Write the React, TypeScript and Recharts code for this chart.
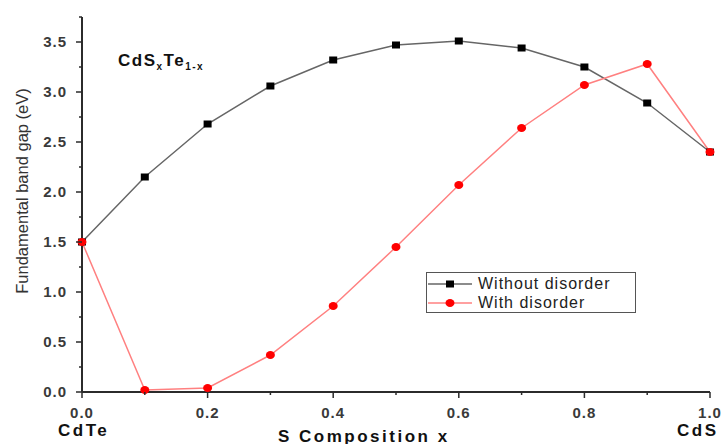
import React from "react";
import { LineChart, Line, XAxis, YAxis } from "recharts";

const compositions = [0, 0.1, 0.2, 0.3, 0.4, 0.5, 0.6, 0.7, 0.8, 0.9, 1.0];
const withoutDisorder = [1.5, 2.15, 2.68, 3.06, 3.32, 3.47, 3.51, 3.44, 3.25, 2.89, 2.4];
const withDisorder = [1.5, 0.02, 0.04, 0.37, 0.86, 1.45, 2.07, 2.64, 3.07, 3.28, 2.4];
const xTicks = [0, 0.1, 0.2, 0.3, 0.4, 0.5, 0.6, 0.7, 0.8, 0.9, 1.0];
const yTicks = [0, 0.25, 0.5, 0.75, 1, 1.25, 1.5, 1.75, 2, 2.25, 2.5, 2.75, 3, 3.25, 3.5, 3.75];

const data = compositions.map((x, i) => ({
  x,
  without: withoutDisorder[i],
  with: withDisorder[i],
}));

const W = 722;
const H = 444;
const AXIS = "#2b2b2b";
const TICK_TEXT = "#3a3a3a";
const FONT = "'Liberation Sans', Arial, sans-serif";

const isMajor = (v: number, step: number) => Math.abs(Math.round(v / step) * step - v) < 1e-6;

function XTick(props: any) {
  const { x, y, payload } = props;
  const major = isMajor(payload.value, 0.2);
  return (
    <g>
      <line x1={x} x2={x} y1={y} y2={y + (major ? 6 : 3)} stroke={AXIS} strokeWidth={1.5} />
      {major && (
        <text x={x} y={y + 26} textAnchor="middle" fontSize={15} fontWeight="bold" letterSpacing={1} fill={TICK_TEXT} fontFamily={FONT}>
          {payload.value.toFixed(1)}
        </text>
      )}
    </g>
  );
}

function YTick(props: any) {
  const { x, y, payload } = props;
  const major = isMajor(payload.value, 0.5);
  return (
    <g>
      <line x1={x} x2={x - (major ? 6 : 3)} y1={y} y2={y} stroke={AXIS} strokeWidth={1.5} />
      {major && (
        <text x={x - 15} y={y + 5} textAnchor="end" fontSize={15} fontWeight="bold" letterSpacing={1} fill={TICK_TEXT} fontFamily={FONT}>
          {payload.value.toFixed(1)}
        </text>
      )}
    </g>
  );
}

function SquareDot(props: any) {
  const { cx, cy } = props;
  if (cx == null || cy == null) return null;
  return <rect x={cx - 4} y={cy - 3.5} width={8} height={7} fill="#000" />;
}

function RoundDot(props: any) {
  const { cx, cy } = props;
  if (cx == null || cy == null) return null;
  return <ellipse cx={cx} cy={cy} rx={4.5} ry={4} fill="#ff0000" />;
}

function LegendBox() {
  const row = (label: string, stroke: string, marker: React.ReactNode) => (
    <div style={{ display: "flex", alignItems: "center", height: 19 }}>
      <svg width={46} height={12} style={{ marginRight: 5 }}>
        <line x1={1} x2={45} y1={6} y2={6} stroke={stroke} strokeWidth={1.5} />
        {marker}
      </svg>
      <span>{label}</span>
    </div>
  );
  return (
    <div
      style={{
        position: "absolute",
        left: 426,
        top: 272,
        width: 210,
        height: 41,
        boxSizing: "border-box",
        border: "1.5px solid #555",
        background: "#fff",
        fontFamily: FONT,
        fontSize: 16,
        letterSpacing: 1,
        color: "#222",
        paddingTop: 1,
      }}
    >
      {row("Without disorder", "#666", <rect x={19} y={2.5} width={8} height={7} fill="#000" />)}
      {row("With disorder", "#ff8080", <ellipse cx={23} cy={6} rx={4.5} ry={4} fill="#ff0000" />)}
    </div>
  );
}

const boldLabel = {
  position: "absolute" as const,
  fontFamily: FONT,
  fontWeight: "bold" as const,
  fontSize: 17,
  letterSpacing: 2.5,
  color: "#111",
  whiteSpace: "nowrap" as const,
};

export default function App() {
  return (
    <div style={{ position: "absolute", left: 0, top: 0, width: W, height: H, background: "#fff", overflow: "hidden" }}>
      <LineChart width={W} height={H} data={data} margin={{ top: 17, right: 12, bottom: 0, left: 0 }}>
        <XAxis
          dataKey="x"
          type="number"
          domain={[0, 1]}
          ticks={xTicks}
          interval={0}
          tickSize={0}
          tickMargin={0}
          tickLine={false}
          tick={<XTick />}
          axisLine={{ stroke: AXIS, strokeWidth: 2 }}
          height={52}
        />
        <YAxis
          type="number"
          domain={[0, 3.75]}
          ticks={yTicks}
          interval={0}
          tickSize={0}
          tickMargin={0}
          tickLine={false}
          tick={<YTick />}
          axisLine={{ stroke: AXIS, strokeWidth: 2 }}
          width={82}
        />
        <Line
          type="linear"
          dataKey="without"
          stroke="#666"
          strokeWidth={1.5}
          dot={<SquareDot />}
          activeDot={false}
          isAnimationActive={false}
        />
        <Line
          type="linear"
          dataKey="with"
          stroke="#ff8080"
          strokeWidth={1.5}
          dot={<RoundDot />}
          activeDot={false}
          isAnimationActive={false}
        />
      </LineChart>

      <LegendBox />

      {/* Title */}
      <div style={{ ...boldLabel, left: 118, top: 51, letterSpacing: 1.5 }}>
        CdS<sub style={{ fontSize: 10 }}>x</sub>Te<sub style={{ fontSize: 10 }}>1-x</sub>
      </div>

      {/* Y axis label */}
      <div
        style={{
          position: "absolute",
          left: 22,
          top: 191,
          transform: "translate(-50%, -50%) rotate(-90deg)",
          whiteSpace: "nowrap",
          fontFamily: FONT,
          fontSize: 16.5,
          color: "#333",
        }}
      >
        Fundamental band gap (eV)
      </div>

      {/* X axis labels */}
      <div style={{ ...boldLabel, left: 58, top: 421 }}>CdTe</div>
      <div style={{ ...boldLabel, left: 278, top: 427 }}>S Composition x</div>
      <div style={{ ...boldLabel, left: 677, top: 421 }}>CdS</div>
    </div>
  );
}
